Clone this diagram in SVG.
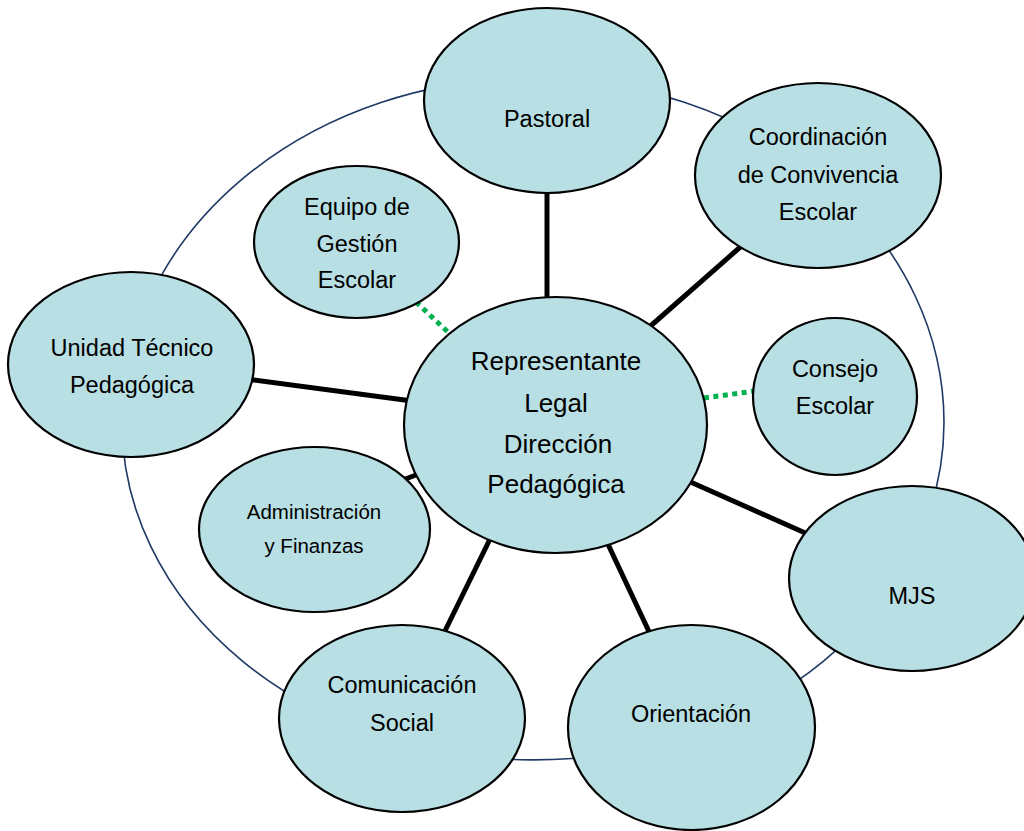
<svg xmlns="http://www.w3.org/2000/svg" width="1024" height="831" viewBox="0 0 1024 831">
  <style>
    .node { fill: #B8DFE3; stroke: #000000; stroke-width: 2.2; }
    .lbl { font-family: "Liberation Sans", Arial, sans-serif; font-size: 23.5px; fill: #000000; text-anchor: middle; }
    .big { font-size: 26px; }
    .small { font-size: 20.5px; }
    .solid { stroke: #000000; stroke-width: 5; fill: none; }
    .dot { stroke: #00B050; stroke-width: 5; stroke-dasharray: 5 4.5; fill: none; }
    .ring { fill: none; stroke: #1F3864; stroke-width: 1.6; }
  </style>
  <rect x="0" y="0" width="1024" height="831" fill="#FFFFFF"/>
  <path id="outer-ring" class="ring" d="M 122,422.5 A 411 344.5 0 0 1 944,422.5 A 411 337.5 0 0 1 122,422.5 Z"/>
  <g id="connectors">
    <line class="solid" x1="547" y1="185" x2="547" y2="305"/>
    <line class="solid" x1="746" y1="242" x2="646" y2="330"/>
    <line class="solid" x1="246" y1="379" x2="412" y2="401"/>
    <line class="solid" x1="424" y1="472" x2="400" y2="481"/>
    <line class="solid" x1="492" y1="535" x2="442" y2="637"/>
    <line class="solid" x1="606" y1="540" x2="652" y2="638"/>
    <line class="solid" x1="686" y1="480" x2="812" y2="536"/>
    <line class="dot" x1="416" y1="302" x2="450" y2="334"/>
    <line class="dot" x1="704" y1="398" x2="755" y2="391"/>
  </g>
  <g id="pastoral">
    <ellipse class="node" cx="547" cy="100.5" rx="123" ry="92.5"/>
    <text class="lbl" x="547" y="127">Pastoral</text>
  </g>
  <g id="coordinacion">
    <ellipse class="node" cx="818" cy="175.5" rx="123" ry="92.5"/>
    <text class="lbl" x="818" y="145">Coordinación</text>
    <text class="lbl" x="818" y="183">de Convivencia</text>
    <text class="lbl" x="818" y="220">Escolar</text>
  </g>
  <g id="equipo">
    <ellipse class="node" cx="356.5" cy="242" rx="102.5" ry="76"/>
    <text class="lbl" x="357" y="215">Equipo de</text>
    <text class="lbl" x="357" y="252">Gestión</text>
    <text class="lbl" x="357" y="288">Escolar</text>
  </g>
  <g id="unidad">
    <ellipse class="node" cx="131" cy="364.5" rx="123" ry="92.5"/>
    <text class="lbl" x="132" y="356">Unidad Técnico</text>
    <text class="lbl" x="132" y="393">Pedagógica</text>
  </g>
  <g id="consejo">
    <ellipse class="node" cx="835" cy="396.5" rx="82" ry="78.5"/>
    <text class="lbl" x="835" y="377">Consejo</text>
    <text class="lbl" x="835" y="414">Escolar</text>
  </g>
  <g id="administracion">
    <ellipse class="node" cx="314.5" cy="529.5" rx="115.5" ry="82.5"/>
    <text class="lbl small" x="314" y="519">Administración</text>
    <text class="lbl small" x="314" y="553">y Finanzas</text>
  </g>
  <g id="comunicacion">
    <ellipse class="node" cx="402" cy="718.5" rx="123" ry="93.5"/>
    <text class="lbl" x="402" y="693">Comunicación</text>
    <text class="lbl" x="402" y="731">Social</text>
  </g>
  <g id="orientacion">
    <ellipse class="node" cx="691.5" cy="727.5" rx="123.5" ry="102.5"/>
    <text class="lbl" x="691" y="722">Orientación</text>
  </g>
  <g id="mjs">
    <ellipse class="node" cx="912" cy="578.5" rx="123" ry="92.5"/>
    <text class="lbl" x="912" y="604">MJS</text>
  </g>
  <g id="central">
    <ellipse class="node" cx="555.5" cy="425" rx="151.5" ry="128"/>
    <text class="lbl big" x="556" y="370">Representante</text>
    <text class="lbl big" x="556" y="412">Legal</text>
    <text class="lbl big" x="558" y="453">Dirección</text>
    <text class="lbl big" x="556" y="493">Pedagógica</text>
  </g>
</svg>
